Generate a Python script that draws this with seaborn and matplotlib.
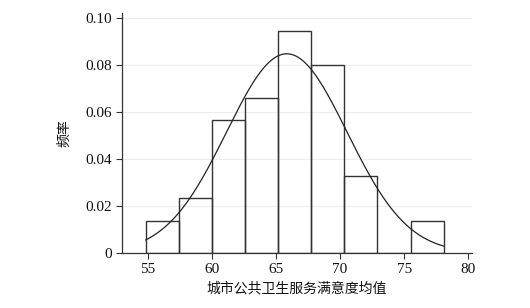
"""Histogram of city public-health satisfaction means with a fitted normal curve."""

import numpy as np
import seaborn as sns
from matplotlib import pyplot as plt
from matplotlib.ticker import FuncFormatter

# bin edges and density per bin
bin_edges = [54.85, 57.43, 60.01, 62.59, 65.17, 67.75, 70.33, 72.91, 75.49, 78.07]
densities = [0.0138, 0.0234, 0.0565, 0.0659, 0.0946, 0.0802, 0.0329, 0.0, 0.0138]

# fitted normal curve parameters
fit_mean = 65.85
fit_sd = 4.7

x_ticks = [55, 60, 65, 70, 75, 80]
y_ticks = [0, 0.02, 0.04, 0.06, 0.08, 0.10]

sns.set_theme(style="ticks")
plt.rcParams["font.family"] = ["Liberation Serif", "Noto Sans CJK SC", "DejaVu Sans"]

fig = plt.figure(figsize=(5.3, 3.08), dpi=100)
ax = fig.add_axes([0.230, 0.179, 0.661, 0.779])

centers = [(a + b) / 2 for a, b in zip(bin_edges[:-1], bin_edges[1:])]
sns.histplot(
    x=centers,
    weights=densities,
    bins=bin_edges,
    stat="count",
    fill=False,
    color="#333333",
    linewidth=1.0,
    ax=ax,
)

xs = np.linspace(bin_edges[0], bin_edges[-1], 300)
pdf = np.exp(-0.5 * ((xs - fit_mean) / fit_sd) ** 2) / (fit_sd * np.sqrt(2 * np.pi))
sns.lineplot(x=xs, y=pdf, color="#222222", linewidth=0.9, ax=ax)

ax.set_xlim(53.0, 80.3)
ax.set_ylim(0, 0.1023)
ax.set_xticks(x_ticks)
ax.set_yticks(y_ticks)
ax.yaxis.set_major_formatter(FuncFormatter(lambda v, _: "0" if v == 0 else f"{v:.2f}"))
ax.yaxis.grid(True, color="#ededed", linewidth=0.8)
ax.set_axisbelow(True)
sns.despine(ax=ax)
for side in ("left", "bottom"):
    ax.spines[side].set_color("#333333")
    ax.spines[side].set_linewidth(0.9)
ax.tick_params(axis="both", direction="out", length=4, width=0.8, color="#333333",
               labelsize=11, labelcolor="#111111", pad=3)

ax.set_xlabel("城市公共卫生服务满意度均值", fontsize=10, family=["Noto Sans CJK SC", "DejaVu Sans"],
              color="#111111", labelpad=4)
ax.set_ylabel("频率", fontsize=10, family=["Noto Sans CJK SC", "DejaVu Sans"],
              color="#111111", labelpad=10)

fig.savefig("out.png", dpi=100)
